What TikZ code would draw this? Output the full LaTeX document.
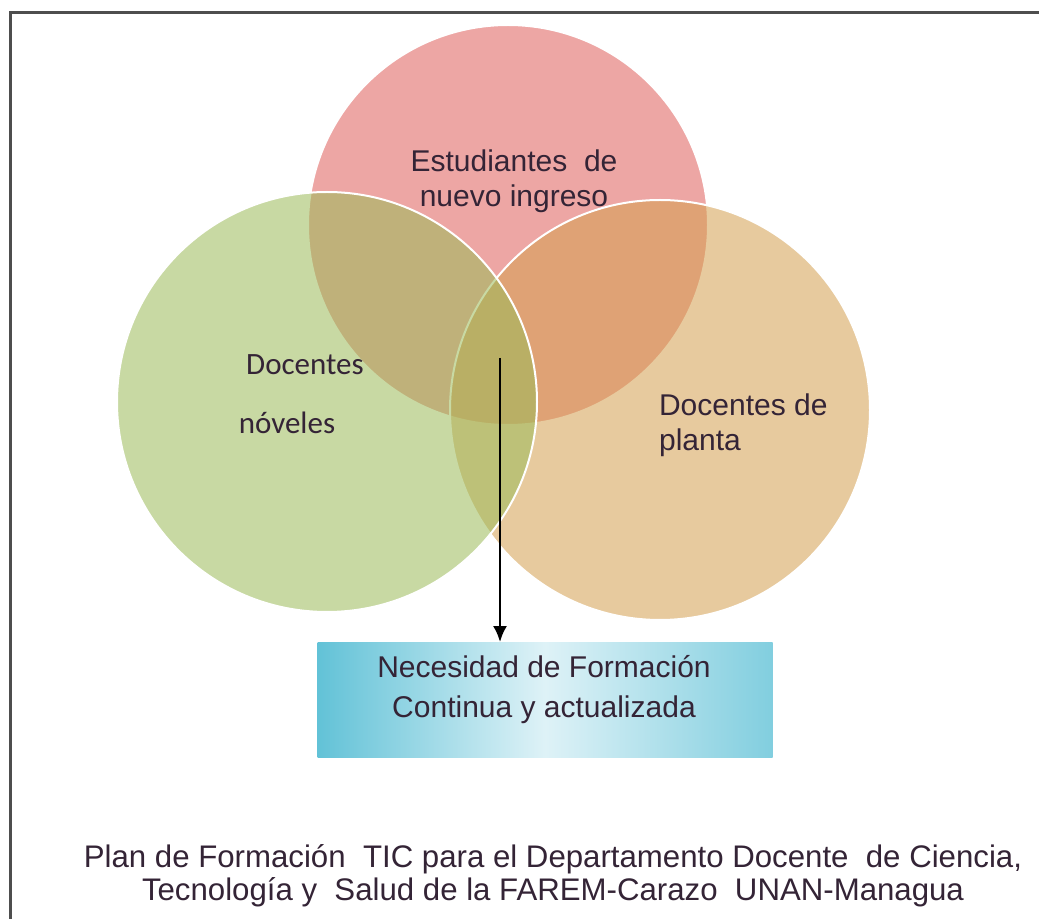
\documentclass[tikz,border=0pt]{standalone}
\usepackage{fontspec}
\setmainfont{Liberation Sans}
\newfontfamily\carlito{Carlito}
\usepackage{tikz}
\usepackage{color}
\usetikzlibrary{arrows.meta}

\definecolor{rosa}{RGB}{237,166,164}
\definecolor{verde}{RGB}{155,187,89}
\definecolor{arena}{RGB}{212,160,80}
\definecolor{cian}{RGB}{98,194,215}
\definecolor{cianclaro}{RGB}{222,242,247}
\definecolor{texto}{RGB}{52,36,54}
\definecolor{marco}{RGB}{78,78,78}

\begin{document}
\begin{tikzpicture}[x=0.5pt,y=-0.5pt]
\useasboundingbox (0,0) rectangle (1039,919);
\fill[white] (0,0) rectangle (1039,919);
\draw[marco, line width=1.5pt] (10,919) -- (10,13) -- (1039,13);

\coordinate (est) at (508,225);
\coordinate (nov) at (327,402);
\coordinate (pla) at (660,410);
\draw[white, line width=1pt, fill=rosa] (est) circle [radius=200];
\draw[white, line width=1pt, fill=arena, fill opacity=0.55] (pla) circle [radius=210];
\draw[white, line width=1pt, fill=verde, fill opacity=0.55] (nov) circle [radius=210];

\node[texto, font=\fontsize{15}{17.5}\selectfont, align=center] (estlbl) at (514,181) {Estudiantes\ \ de\\nuevo ingreso};
\node[texto, font=\carlito\fontsize{15.5}{18}\selectfont] (doc) at (305,365) {Docentes};
\node[texto, font=\carlito\fontsize{15.5}{18}\selectfont] (novlbl) at (287,423) {nóveles};
\node[texto, font=\fontsize{15}{17.5}\selectfont, align=left, anchor=west] (plalbl) at (652,425) {Docentes de\\planta};

\node[minimum width=227.5pt, minimum height=57.5pt, inner sep=0pt,
  left color=cian, right color=cian!80, middle color=cianclaro] (nec) at (545,700) {};
\node[texto, font=\fontsize{15}{20}\selectfont, align=center] (neclbl) at (544,690) {Necesidad de Formación\\Continua y actualizada};

\coordinate (ini) at (500,358);
\draw[black, line width=1.3pt, -{Latex[length=8pt,width=7pt]}] (ini) -- (ini |- nec.north);

\node[texto, font=\fontsize{15.6}{16.5}\selectfont, align=center] (plan) at (553,876) {Plan de Formación\ \ TIC para el Departamento Docente\ \ de Ciencia,\\Tecnología y\ \ Salud de la FAREM-Carazo\ \ UNAN-Managua};
\end{tikzpicture}
\end{document}
